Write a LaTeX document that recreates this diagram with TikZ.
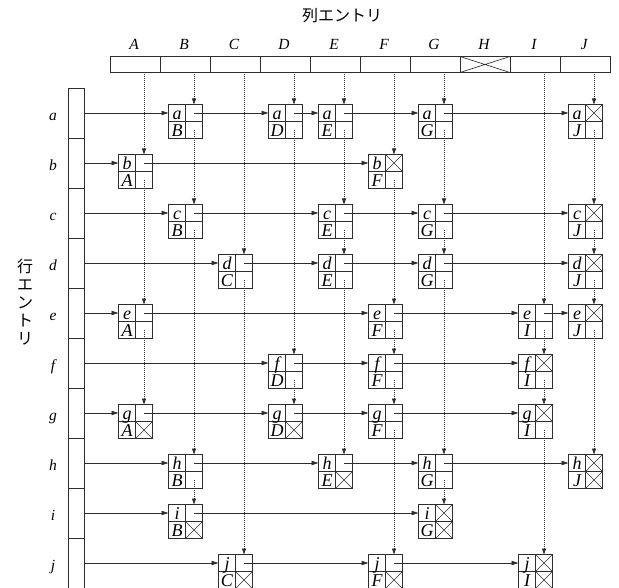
\documentclass[tikz,border=0pt]{standalone}
\usepackage{fontspec}
\setmainfont{Liberation Serif}
\newfontfamily\jpfont{Noto Sans CJK JP}
\usetikzlibrary{arrows.meta}
\definecolor{ln}{gray}{0.18}
\tikzset{
 entbox/.style={draw=ln, line width=0.85pt, minimum width=34pt, minimum height=34pt, inner sep=0pt, outer sep=0pt},
 cellgrid/.style={draw=ln, line width=0.85pt},
 celltxt/.style={inner sep=0pt, anchor=base, font=\fontsize{18}{18}\selectfont\itshape},
 hdrbox/.style={draw=ln, line width=0.85pt, minimum width=50pt, minimum height=16pt, inner sep=0pt, outer sep=0pt},
 rowbox/.style={draw=ln, line width=0.85pt, minimum width=16pt, minimum height=50pt, inner sep=0pt, outer sep=0pt},
 lbl/.style={inner sep=0pt, anchor=base, font=\fontsize{15.5}{15.5}\selectfont\itshape},
 rowarr/.style={draw=ln, line width=0.75pt, -{Triangle[length=7pt,width=4.4pt]}},
 colarr/.style={draw=ln, line width=0.75pt, dash pattern=on 0.9pt off 1.1pt, -{Triangle[length=6pt,width=4pt]}},
 xline/.style={draw=ln, line width=0.65pt},
}
\newcommand\mkent[4]{%
 \node[entbox] (#3#4) at ({135.5+50*#1},{123+50*#2}) {};
 \draw[cellgrid] (#3#4.north) -- (#3#4.south) (#3#4.west) -- (#3#4.east);
 \node[celltxt] (#3#4r) at ([xshift=8.5pt,yshift=2pt]#3#4.west) {#3};
 \node[celltxt] (#3#4c) at ([xshift=8.5pt,yshift=2pt]#3#4.south west) {#4};
}
\newcommand\crosstop[1]{\draw[xline] (#1.north) -- (#1.east) (#1.north east) -- (#1.center);}
\newcommand\crossbot[1]{\draw[xline] (#1.center) -- (#1.south east) (#1.east) -- (#1.south);}
\newcommand\rfirst[2]{\draw[rowarr] (#1.east) -- ([yshift=-8.5pt]#2.north west);}
\newcommand\rarr[2]{\draw[rowarr] ([xshift=-8.5pt,yshift=-8.5pt]#1.north east) -- ([yshift=-8.5pt]#2.north west);}
\newcommand\cfirst[2]{\draw[colarr] ([xshift=9pt]#1.south) -- ([xshift=-8.5pt]#2.north east);}
\newcommand\carr[2]{\draw[colarr] ([xshift=-8.5pt,yshift=8.5pt]#1.south east) -- ([xshift=-8.5pt]#2.north east);}
\begin{document}
\begin{tikzpicture}[x=1pt,y=-1pt]
\useasboundingbox (0,1.5) rectangle (619,589.5);
% titles
\node[font=\jpfont\fontsize{16}{16}\selectfont, inner sep=0pt] (title) at (342,17) {列エントリ};
\node[font=\jpfont\fontsize{16}{18}\selectfont, align=center, inner sep=0pt] (vtitle) at (25,304) {行\\エ\\ン\\ト\\リ};
% column header
\foreach \c [count=\k from 0] in {A,B,C,D,E,F,G,H,I,J}{
  \node[hdrbox] (col\c) at ({135+50*\k},66) {};
  \node[lbl] (cl\c) at ({134+50*\k},51) {\c};
}
\draw[xline] (colH.north west) -- (colH.south east) (colH.south west) -- (colH.north east);
% row header
\foreach \r [count=\k from 0] in {a,b,c,d,e,f,g,h,i,j}{
  \node[rowbox] (row\r) at (76,{114.5+50*\k}) {};
  \node[lbl] (rl\r) at (53,{122+50*\k}) {\r};
}
% entries
\mkent{1}{0}{a}{B} \mkent{3}{0}{a}{D} \mkent{4}{0}{a}{E} \mkent{6}{0}{a}{G} \mkent{9}{0}{a}{J}
\mkent{0}{1}{b}{A} \mkent{5}{1}{b}{F}
\mkent{1}{2}{c}{B} \mkent{4}{2}{c}{E} \mkent{6}{2}{c}{G} \mkent{9}{2}{c}{J}
\mkent{2}{3}{d}{C} \mkent{4}{3}{d}{E} \mkent{6}{3}{d}{G} \mkent{9}{3}{d}{J}
\mkent{0}{4}{e}{A} \mkent{5}{4}{e}{F} \mkent{8}{4}{e}{I} \mkent{9}{4}{e}{J}
\mkent{3}{5}{f}{D} \mkent{5}{5}{f}{F} \mkent{8}{5}{f}{I}
\mkent{0}{6}{g}{A} \mkent{3}{6}{g}{D} \mkent{5}{6}{g}{F} \mkent{8}{6}{g}{I}
\mkent{1}{7}{h}{B} \mkent{4}{7}{h}{E} \mkent{6}{7}{h}{G} \mkent{9}{7}{h}{J}
\mkent{1}{8}{i}{B} \mkent{6}{8}{i}{G}
\mkent{2}{9}{j}{C} \mkent{5}{9}{j}{F} \mkent{8}{9}{j}{I}
% null pointers
\crosstop{aJ} \crosstop{bF} \crosstop{cJ} \crosstop{dJ} \crosstop{eJ}
\crosstop{fI} \crosstop{gI} \crosstop{hJ} \crosstop{iG} \crosstop{jI}
\crossbot{gA} \crossbot{gD} \crossbot{hE} \crossbot{hJ} \crossbot{iB}
\crossbot{iG} \crossbot{jC} \crossbot{jF} \crossbot{jI}
% row links
\rfirst{rowa}{aB} \rarr{aB}{aD} \rarr{aD}{aE} \rarr{aE}{aG} \rarr{aG}{aJ}
\rfirst{rowb}{bA} \rarr{bA}{bF}
\rfirst{rowc}{cB} \rarr{cB}{cE} \rarr{cE}{cG} \rarr{cG}{cJ}
\rfirst{rowd}{dC} \rarr{dC}{dE} \rarr{dE}{dG} \rarr{dG}{dJ}
\rfirst{rowe}{eA} \rarr{eA}{eF} \rarr{eF}{eI} \rarr{eI}{eJ}
\rfirst{rowf}{fD} \rarr{fD}{fF} \rarr{fF}{fI}
\rfirst{rowg}{gA} \rarr{gA}{gD} \rarr{gD}{gF} \rarr{gF}{gI}
\rfirst{rowh}{hB} \rarr{hB}{hE} \rarr{hE}{hG} \rarr{hG}{hJ}
\rfirst{rowi}{iB} \rarr{iB}{iG}
\rfirst{rowj}{jC} \rarr{jC}{jF} \rarr{jF}{jI}
% column links
\cfirst{colA}{bA} \carr{bA}{eA} \carr{eA}{gA}
\cfirst{colB}{aB} \carr{aB}{cB} \carr{cB}{hB} \carr{hB}{iB}
\cfirst{colC}{dC} \carr{dC}{jC}
\cfirst{colD}{aD} \carr{aD}{fD} \carr{fD}{gD}
\cfirst{colE}{aE} \carr{aE}{cE} \carr{cE}{dE} \carr{dE}{hE}
\cfirst{colF}{bF} \carr{bF}{eF} \carr{eF}{fF} \carr{fF}{gF} \carr{gF}{jF}
\cfirst{colG}{aG} \carr{aG}{cG} \carr{cG}{dG} \carr{dG}{hG} \carr{hG}{iG}
\cfirst{colI}{eI} \carr{eI}{fI} \carr{fI}{gI} \carr{gI}{jI}
\cfirst{colJ}{aJ} \carr{aJ}{cJ} \carr{cJ}{dJ} \carr{dJ}{eJ} \carr{eJ}{hJ}
\end{tikzpicture}
\end{document}
